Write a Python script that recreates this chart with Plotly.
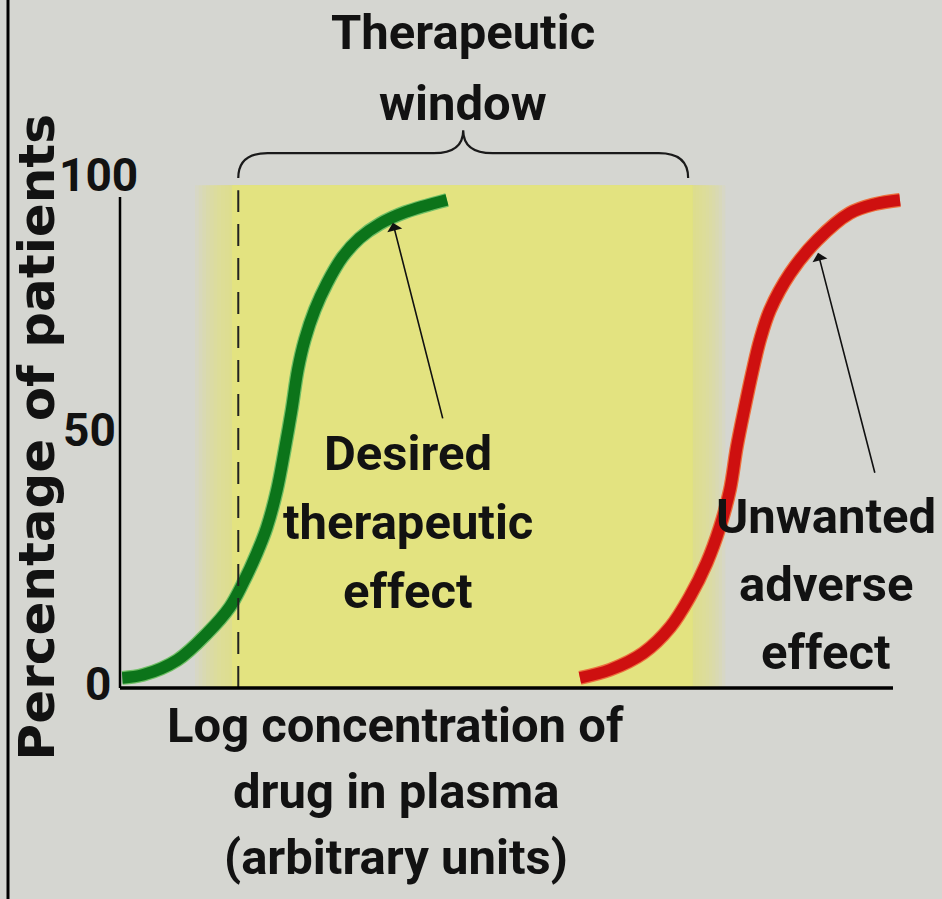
import plotly.graph_objects as go

# dose-response curves (log concentration, % of patients)
conc_desired = [0.03, 0.30, 0.74, 1.13, 1.42, 1.59, 1.77, 1.90, 2.03, 2.13, 2.22, 2.30, 2.39,
                2.52, 2.68, 2.88, 3.10, 3.36, 3.69, 4.23]
pct_desired = [1.2, 1.8, 4.7, 10.0, 15.1, 19.8, 25.7, 30.8, 38.1, 46.0, 53.8, 61.7, 67.6,
               73.5, 78.8, 83.9, 87.6, 90.4, 92.7, 95.1]

conc_adverse = [5.95, 6.34, 6.77, 7.12, 7.37, 7.59, 7.76, 7.89, 7.98, 8.08, 8.18, 8.28, 8.41,
                8.67, 9.02, 9.44, 9.77, 10.09]
pct_adverse = [1.2, 2.8, 6.1, 11.2, 17.1, 23.8, 30.8, 38.1, 46.6, 54.2, 61.3, 67.6, 73.5,
               80.7, 87.2, 92.5, 94.3, 95.1]

y_ticks = [0, 50, 100]
y_tick_labels = ['0', '50', '100']

window_start = 1.53
window_end = 7.35
x_axis_end = 10.0

BG = '#d5d6d1'
YELLOW = 'rgb(228,230,130)'
GREEN = 'rgb(12,116,26)'
RED = 'rgb(206,16,16)'
TEXT = 'Roboto, Liberation Sans, Arial, sans-serif'
TEXT_COLOR = '#121212'

fig = go.Figure()

# thin light halo under each curve, then the curve itself
for xs, ys, halo, col in [(conc_desired, pct_desired, 'rgb(110,190,100)', GREEN),
                          (conc_adverse, pct_adverse, 'rgb(236,110,60)', RED)]:
    fig.add_trace(go.Scatter(x=xs, y=ys, mode='lines',
                             line=dict(color=halo, width=14, shape='spline', smoothing=1.0),
                             hoverinfo='skip', showlegend=False))
    fig.add_trace(go.Scatter(x=xs, y=ys, mode='lines',
                             line=dict(color=col, width=11.5, shape='spline', smoothing=1.0),
                             hoverinfo='skip', showlegend=False))

# yellow band with soft left/right edges
core_l, core_r = 1.45, 7.41
fig.add_shape(type='rect', x0=core_l, x1=core_r, y0=-0.8, y1=98,
              fillcolor=YELLOW, line_width=0, layer='below')
for i in range(1, 11):
    fig.add_shape(type='rect', x0=core_l - 0.048 * i, x1=core_r + 0.042 * i,
                  y0=-0.8, y1=98, fillcolor=YELLOW, opacity=0.14, line_width=0, layer='below')

# dashed marker at the start of the window
fig.add_shape(type='line', x0=window_start, x1=window_start, y0=-0.8, y1=97,
              line=dict(color='#222', width=2, dash='22px,12px'))

# axes
fig.add_shape(type='line', x0=0, x1=0, y0=-0.8, y1=95.7, line=dict(color='black', width=2.5))
fig.add_shape(type='line', x0=0, x1=x_axis_end, y0=-0.8, y1=-0.8, line=dict(color='black', width=3.5))

# left frame line
fig.add_shape(type='line', xref='paper', yref='paper', x0=0.0085, x1=0.0085, y0=0, y1=1,
              line=dict(color='black', width=3))

# brace over the therapeutic window
mid = (window_start + window_end) / 2
b0, b1, b2 = 99.4, 104.3, 108.8
r = 0.38
brace = (f'M {window_start},{b0} Q {window_start},{b1} {window_start + r},{b1} '
         f'L {mid - r},{b1} Q {mid},{b1} {mid},{b2} '
         f'Q {mid},{b1} {mid + r},{b1} '
         f'L {window_end - r},{b1} Q {window_end},{b1} {window_end},{b0}')
fig.add_shape(type='path', path=brace, line=dict(color='#1a1a1a', width=2.2))


def add_block(lines, x, y_center, spacing, size=49):
    n = len(lines)
    for i, line in enumerate(lines):
        fig.add_annotation(x=x, y=y_center + ((n - 1) / 2 - i) * spacing, text=line,
                           showarrow=False,
                           font=dict(family=TEXT, size=size, color=TEXT_COLOR, weight='bold'))


add_block(['Therapeutic', 'window'], mid, 121.0, 13.9)
add_block(['Desired', 'therapeutic', 'effect'], 3.73, 31.7, 13.5)
add_block(['Unwanted', 'adverse', 'effect'], 9.13, 19.5, 13.4)
add_block(['Log concentration of', 'drug in plasma', '(arbitrary units)'], 3.57, -21.1, 13.0)

fig.add_annotation(x=-1.07, y=48.5, text='Percentage of patients', textangle=-90, showarrow=False,
                   font=dict(family='DejaVu Sans, sans-serif', size=50, color=TEXT_COLOR, weight='bold'))

tick_shift = {'0': -5, '50': 0, '100': 22}
for v, lab in zip(y_ticks, y_tick_labels):
    fig.add_annotation(x=-0.03, y=v, text=lab, showarrow=False, xanchor='right',
                       xshift=tick_shift[lab],
                       font=dict(family=TEXT, size=46, color=TEXT_COLOR, weight='bold'))

# pointer arrows
fig.add_annotation(x=3.53, y=90.6, ax=4.18, ay=51.9, axref='x', ayref='y', xref='x', yref='y',
                   text='', showarrow=True, arrowhead=1, arrowsize=1.6, arrowwidth=1.6,
                   arrowcolor='#111', standoff=0)
fig.add_annotation(x=9.03, y=84.7, ax=9.77, ay=41.2, axref='x', ayref='y', xref='x', yref='y',
                   text='', showarrow=True, arrowhead=1, arrowsize=1.6, arrowwidth=1.6,
                   arrowcolor='#111', standoff=0)

fig.update_layout(
    width=942, height=899, autosize=False,
    margin=dict(l=0, r=0, t=0, b=0),
    paper_bgcolor=BG, plot_bgcolor=BG,
    xaxis=dict(range=[-1.5524, 10.634], visible=False, fixedrange=True),
    yaxis=dict(range=[-42.24, 134.38], visible=False, fixedrange=True),
)

fig.write_html('out.html', config={'displayModeBar': False},
               post_script=["document.body.style.margin='0';"])
